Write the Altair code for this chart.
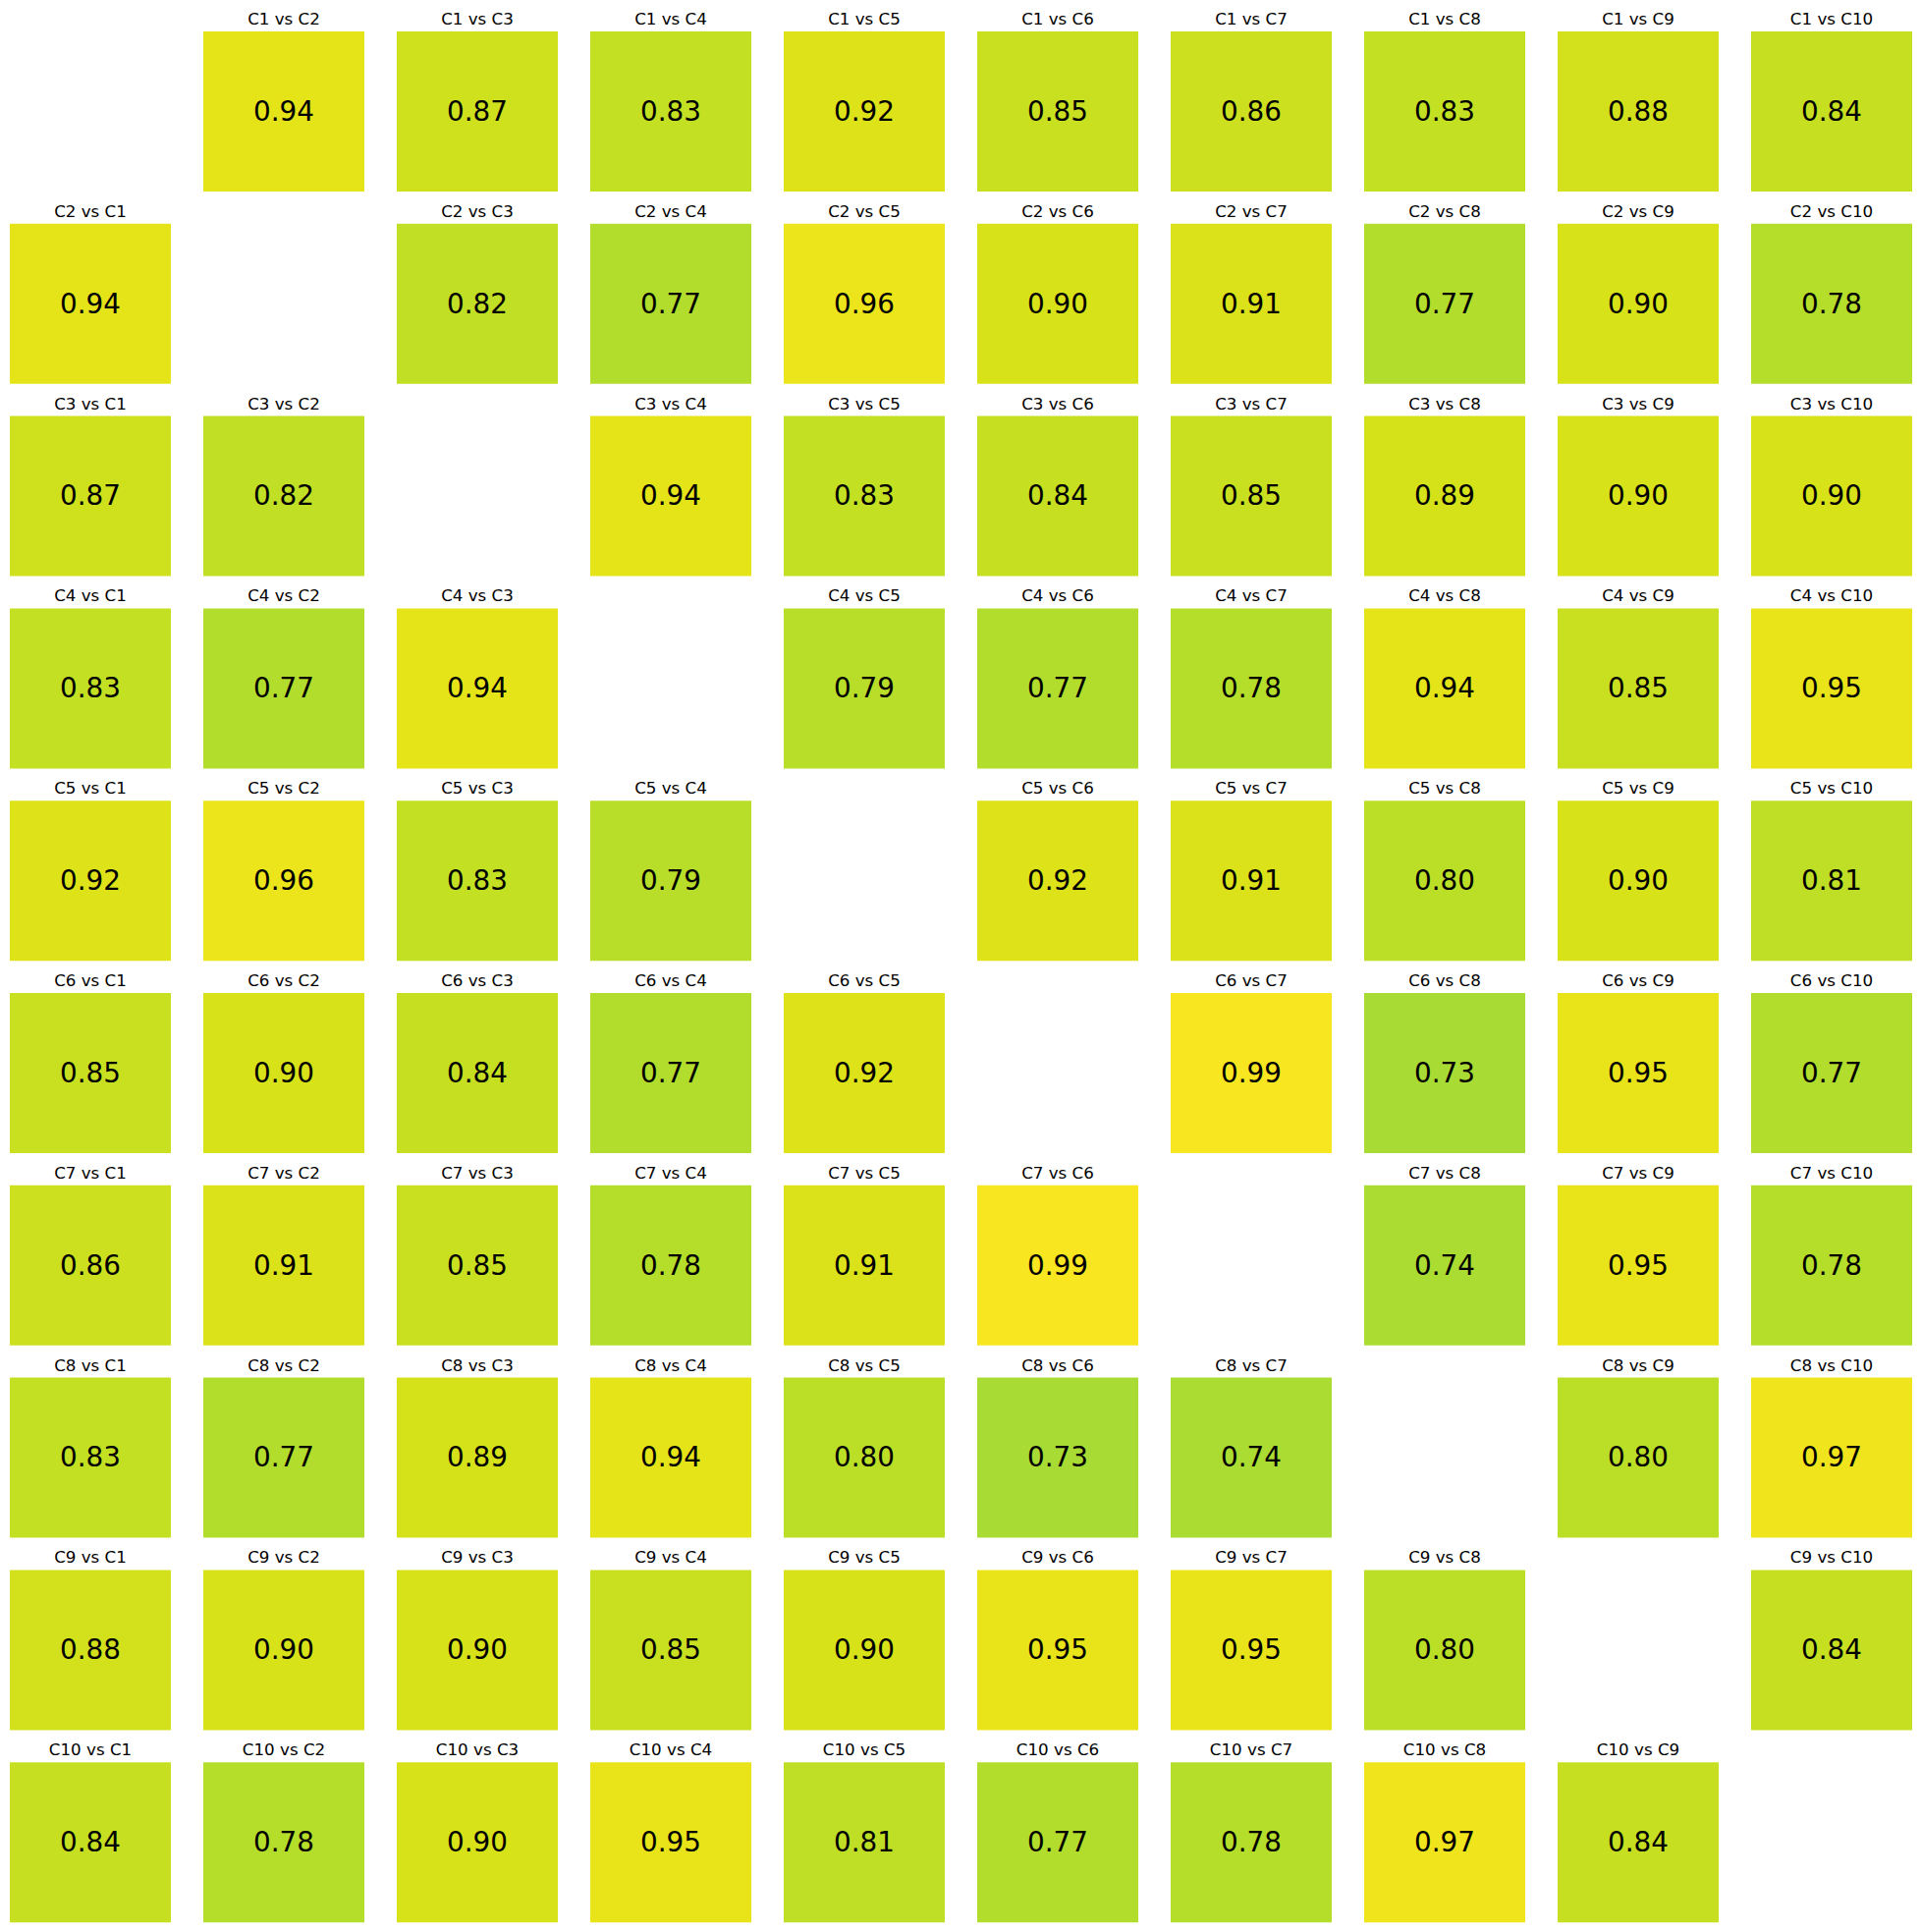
import altair as alt
import pandas as pd

# Category labels
names = ["C1", "C2", "C3", "C4", "C5", "C6", "C7", "C8", "C9", "C10"]

# Upper-triangle similarity values (row i vs columns i+1..10)
upper = [
    [0.94, 0.87, 0.83, 0.92, 0.85, 0.86, 0.83, 0.88, 0.84],
    [0.82, 0.77, 0.96, 0.90, 0.91, 0.77, 0.90, 0.78],
    [0.94, 0.83, 0.84, 0.85, 0.89, 0.90, 0.90],
    [0.79, 0.77, 0.78, 0.94, 0.85, 0.95],
    [0.92, 0.91, 0.80, 0.90, 0.81],
    [0.99, 0.73, 0.95, 0.77],
    [0.74, 0.95, 0.78],
    [0.80, 0.97],
    [0.84],
]

# Colour stops (upper end of viridis)
color_domain = [0.73, 0.77, 0.80, 0.85, 0.90, 0.95, 0.99]
color_range = ["#a8db34", "#b2dd2c", "#bbdf27", "#c9e020", "#d8e219", "#e8e419", "#f8e621"]

n = len(names)
mat = [[None] * n for _ in range(n)]
for i, row in enumerate(upper):
    for k, v in enumerate(row):
        j = i + 1 + k
        mat[i][j] = v
        mat[j][i] = v

# Layout constants (in cell units)
W, H = 1956, 1967
PX, PY = 197.0, 195.8
CELL = 164.0 / 197.0

rows = []
for i in range(n):
    for j in range(n):
        if i == j:
            continue
        v = mat[i][j]
        rows.append({
            "row": i, "col": j,
            "x0": j, "x1": j + CELL, "xc": j + CELL / 2,
            "y0": i, "y1": i + 163.0 / PY,
            "yt": i - 7.0 / PY, "yv": i + 90.7 / PY,
            "value": v,
            "label": f"{names[i]} vs {names[j]}",
            "vtext": f"{v:.2f}",
        })
df = pd.DataFrame(rows)

xs = alt.Scale(domain=[-10.0 / PX, (W - 10.0) / PX], nice=False, zero=False)
ys = alt.Scale(domain=[-32.0 / PY, (H - 32.0) / PY], nice=False, zero=False, reverse=True)

base = alt.Chart(df)

rects = base.mark_rect(stroke=None).encode(
    x=alt.X("x0:Q", scale=xs, axis=None),
    x2="x1:Q",
    y=alt.Y("y0:Q", scale=ys, axis=None),
    y2="y1:Q",
    color=alt.Color("value:Q", scale=alt.Scale(domain=color_domain, range=color_range, interpolate="rgb"), legend=None),
)

titles = base.mark_text(
    font="DejaVu Sans", fontSize=16.7, color="black", align="center", baseline="alphabetic"
).encode(
    x=alt.X("xc:Q", scale=xs, axis=None),
    y=alt.Y("yt:Q", scale=ys, axis=None),
    text="label:N",
)

values = base.mark_text(
    font="DejaVu Sans", fontSize=27.8, color="black", align="center", baseline="alphabetic"
).encode(
    x=alt.X("xc:Q", scale=xs, axis=None),
    y=alt.Y("yv:Q", scale=ys, axis=None),
    text="vtext:N",
)

chart = alt.layer(rects, titles, values).properties(
    width=W, height=H, padding=0, autosize=alt.AutoSizeParams(type="none"),
    background="white",
).configure_view(stroke=None)

chart.save("out.html", embed_options={"renderer": "svg", "actions": False})
